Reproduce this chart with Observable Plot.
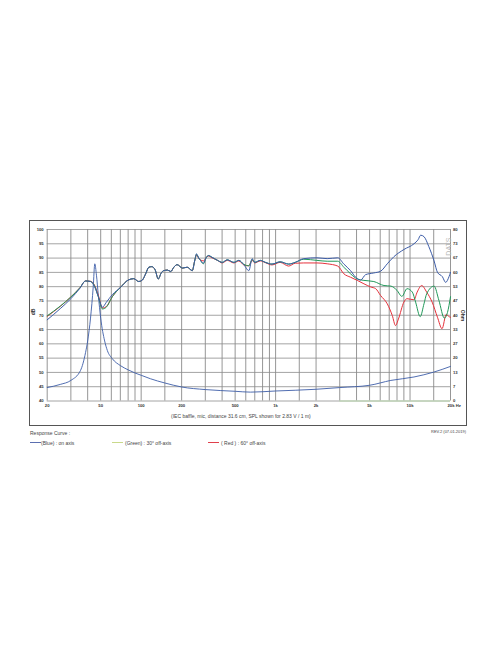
<!DOCTYPE html>
<html><head><meta charset="utf-8">
<script src="https://cdn.jsdelivr.net/npm/d3@7"></script>
<script src="https://cdn.jsdelivr.net/npm/@observablehq/plot@0.6"></script>
<style>
body{margin:0;background:#fff;font-family:"Liberation Sans",Arial,sans-serif;}
#wrap{position:relative;width:496px;height:664px;overflow:hidden;}
#wrap svg{position:absolute;left:0;top:0;}
#frame{position:absolute;left:29px;top:220px;width:436px;height:204px;border:1px solid #555;}
.t{position:absolute;font-size:5px;line-height:6px;color:#444;white-space:nowrap;}
.sw{position:absolute;width:11px;height:1px;}
</style></head><body><div id="wrap"></div>
<script>
// grid & ticks
const gridHz = [20,30,40,50,60,70,80,90,100,150,200,300,400,500,600,700,800,900,1000,1500,2000,3000,4000,5000,6000,7000,8000,9000,10000,15000,20000];
const gridDb = [40,45,50,55,60,65,70,75,80,85,90,95,100];
const xTicks = [20,50,100,200,500,1000,2000,5000,10000,20000];
const xTickLabels = ["20","50","100","200","500","1k","2k","5k","10k","20k Hz"];
const ohmLabels = ["0","7","13","20","27","33","40","47","53","60","67","73","80"];

// impedance curve, positioned on the dB scale (right axis shows Ohm)
const impHz = [20,25,30,35.4,38.6,40,42,44,45.2,46.5,48,50,53.5,56,61,70,80,90,100,117,150,200,300,500,650,1000,2000,3000,5000,7200,10700,15000,20000];
const impDb = [44.7,45.8,47.2,50.7,57,61,69,80,88,84,77,69,61,57.7,54.8,52.4,50.9,49.8,49.0,47.8,46.3,44.9,44.0,43.4,43.1,43.5,44.1,44.7,45.5,47.2,48.4,50.1,52.1];

// SPL on axis (blue)
const blueHz = [20,25,30,35,38.6,42,45,48,51.5,55,61,70,80,88,96,102,108,114,120,127,134,141,147,157,166,175,185,203,220,240,250,258,268,276,290,305,316,336,370,401,437,490,533,580,632,670,700,770,840,940,1080,1250,1400,1620,2030,2420,2900,3220,3610,3940,4290,4670,5380,6040,6770,7590,9000,10700,11500,12000,12700,13800,15100,16000,17400,18400,19500,20000];
const blueDb = [68.4,72.3,75.8,79.4,82,81.8,80,76.5,72.8,74.5,77.2,79.7,82.3,82.8,81.8,82.3,84.5,86.8,87,85.9,82.7,84.8,85.6,85.8,85.3,86.8,87.7,86.5,86.8,85.6,89,91.5,90,89.2,88.2,90.2,90.9,90.3,89.2,88.5,89.4,88.5,89.2,87.7,85.6,89.8,88.5,89.2,88.5,87.9,88.7,87.9,88.5,89.8,90.1,89.8,90.1,87.9,85.6,83.3,82.3,84.2,84.8,85.4,88,90.5,93,95,96.5,98,97.5,94,89,85,83.5,81.5,83.5,85];

// SPL 30° off axis (green)
const greenHz = [20,25,30,35,38.6,42,45,48,51.5,55,61,70,80,88,96,102,108,114,120,127,134,141,147,157,166,175,185,203,220,240,250,258,268,276,290,305,316,336,370,401,437,490,533,580,632,670,700,770,840,940,1080,1250,1400,1620,2030,2420,2900,3220,3610,4050,4540,5380,6400,7200,8000,8700,9500,10400,11000,11900,12700,13300,15100,16400,18000,19000,20000];
const greenDb = [69.8,73.2,76.4,79.6,82,81.8,80.3,76.5,72.2,72.8,76.5,79.7,82.3,82.8,81.8,82.3,84.5,86.8,87,85.9,82.7,84.8,85.6,85.8,85.3,86.8,87.7,86.5,86.8,85.6,89,91.3,90,89.2,88,90.2,90.9,90.3,89.2,88.5,89.4,88.5,89.2,87.8,87.3,89.5,88.5,89.2,88.5,87.9,88.7,87.9,88.5,89.6,89.2,88.9,88.9,86.8,84.5,82.7,82.2,81.8,80.4,80.2,78.7,76.6,79.3,78.1,74.6,69.5,74,77.5,80.2,75.2,69,71,76.5];

// SPL 60° off axis (red)
const redHz = [20,25,30,35,38.6,42,45,48,51.5,55,61,70,80,88,96,102,108,114,120,127,134,141,147,157,166,175,185,203,220,240,250,258,268,276,290,305,316,336,370,401,437,490,533,580,632,670,700,770,840,940,1080,1250,1400,1620,2030,2420,2900,3220,3610,4050,4540,5100,5550,6040,6770,7380,7800,8200,9000,9500,10700,11300,12200,13300,14600,16000,17300,18600,19500,20000];
const redDb = [69.6,73.1,76.4,79.6,82,81.9,80.5,77,72.5,73,76.5,79.7,82.3,82.8,81.8,82.3,84.5,86.8,87,85.9,82.7,84.8,85.6,85.8,85.3,86.8,87.7,86.5,86.8,85.6,89,91,90,89.4,89,90.2,90.7,90.1,89.2,88.3,89.2,88.3,89,87.6,87.3,89.2,88.3,89,88.4,87.6,88.5,87.2,88.2,88.3,88.3,88,87.2,84.5,83.3,82.2,81,79.9,79.3,76.9,74,69.9,66.4,68.7,74.6,75.8,75.4,78.1,80.4,78.1,74.6,69.3,65.3,70.3,69.5,69.3];

const toRows = (hz, v) => hz.map((f, i) => ({f, v: v[i]}));
const imp = toRows(impHz, impDb);
const blue = toRows(blueHz, blueDb);
const green = toRows(greenHz, greenDb);
const red = toRows(redHz, redDb);

const cBlue = "#3d5da8", cGreen = "#22995a", cRed = "#e6313b";
const lab = {fontSize: 4.2, fontWeight: "bold", fill: "#333"};

const chart = Plot.plot({
  width: 496, height: 664,
  marginLeft: 46.7, marginRight: 46, marginTop: 229, marginBottom: 263.5,
  x: {type: "log", domain: [20, 20000], axis: null},
  y: {domain: [40, 100], axis: null},
  style: {background: "transparent", fontFamily: "Liberation Sans, Arial, sans-serif"},
  marks: [
    Plot.ruleY(gridDb, {y: d => d, stroke: "#9a9a9a", strokeWidth: 0.9, strokeOpacity: 1}),
    Plot.ruleX(gridHz, {x: d => d, stroke: "#8a8a8a", strokeWidth: 0.9, strokeOpacity: 1}),
    Plot.ruleY([40], {x1: 3000, x2: 20000, stroke: "#bcd9b0", strokeWidth: 1.2}),
    Plot.line(imp, {x: "f", y: "v", stroke: cBlue, strokeWidth: 0.9, curve: "monotone-x"}),
    Plot.line(red, {x: "f", y: "v", stroke: cRed, strokeWidth: 1.0, curve: "monotone-x"}),
    Plot.line(green, {x: "f", y: "v", stroke: cGreen, strokeWidth: 1.0, curve: "monotone-x"}),
    Plot.line(blue, {x: "f", y: "v", stroke: cBlue, strokeWidth: 1.0, curve: "monotone-x"}),
    Plot.text(xTicks.slice(0, -1), {x: d => d, text: (d, i) => xTickLabels[i], frameAnchor: "bottom", dy: 6, ...lab}),
    Plot.text(xTicks.slice(-1), {x: d => d, text: () => xTickLabels[xTickLabels.length - 1], frameAnchor: "bottom", dy: 6, dx: -3, textAnchor: "start", ...lab}),
    Plot.text(gridDb, {y: d => d, text: d => String(d), frameAnchor: "left", dx: -3.5, textAnchor: "end", ...lab}),
    Plot.text(gridDb, {y: d => d, text: (d, i) => ohmLabels[i], frameAnchor: "right", dx: 2.5, textAnchor: "start", ...lab}),
    Plot.text(["dB"], {frameAnchor: "left", dx: -14, rotate: -90, fontSize: 5, fontWeight: "bold", fill: "#333"}),
    Plot.text(["Ohm"], {frameAnchor: "right", dx: 12, dy: 6, rotate: 90, fontSize: 5, fontWeight: "bold", fill: "#333"}),
    Plot.text(["DATS"], {frameAnchor: "top-right", dx: -4, dy: 8, rotate: -90, fontSize: 7, fill: "#b8b8b8"})
  ]
});
const wrap = document.getElementById("wrap");
wrap.appendChild(chart);
const frame = document.createElement("div");
frame.id = "frame";
wrap.appendChild(frame);

function addText(txt, left, top, extra) {
  const s = document.createElement("div");
  s.className = "t";
  s.textContent = txt;
  s.style.left = left + "px";
  s.style.top = top + "px";
  if (extra) Object.assign(s.style, extra);
  wrap.appendChild(s);
}
function addSwatch(color, left, top) {
  const s = document.createElement("div");
  s.className = "sw";
  s.style.left = left + "px";
  s.style.top = top + "px";
  s.style.background = color;
  wrap.appendChild(s);
}
addText("(IEC baffle, mic, distance 31.6 cm, SPL shown for 2.83 V / 1 m)", 171, 413);
addText("Response Curve :", 30, 430);
addText("REV.2 (07.01.2019)", 0, 429, {left: "auto", right: "30px", fontSize: "4px"});
addSwatch("#5b6fb0", 30, 442);
addText("(Blue)  : on axis", 41, 440);
addSwatch("#c9d98a", 112, 442);
addText("(Green) : 30° off-axis", 125, 440);
addSwatch("#e0404c", 208, 442);
addText("( Red ) : 60° off-axis", 221, 440);
</script>
</body></html>
